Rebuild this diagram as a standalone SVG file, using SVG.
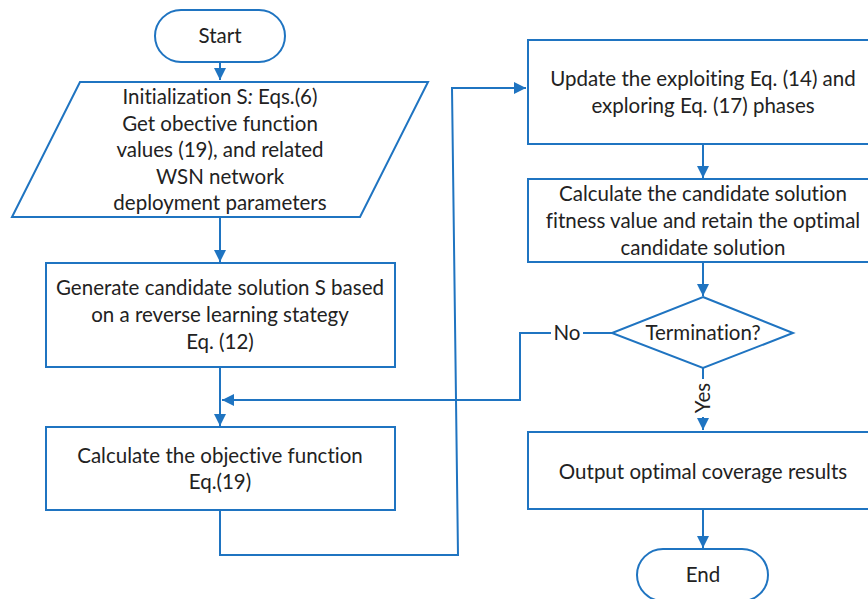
<svg xmlns="http://www.w3.org/2000/svg" width="868" height="599" viewBox="0 0 868 599">
<defs>
<style>
.n{fill:#fff;stroke:#1f74c1;stroke-width:2}
.c{fill:none;stroke:#1f74c1;stroke-width:2}
.t{font-family:Lato,"Liberation Sans",sans-serif;font-size:20.5px;fill:#222;text-anchor:middle;font-variant-ligatures:none}
</style>
<marker id="a" viewBox="0 0 10 10" refX="10" refY="5" markerWidth="6" markerHeight="6" orient="auto" markerUnits="strokeWidth">
<path d="M0,0L10,5L0,10z" fill="#1f74c1"/>
</marker>
</defs>
<rect width="868" height="599" fill="#fff"/>
<g id="connectors">
<path class="c" d="M220,62V80" marker-end="url(#a)"/>
<path class="c" d="M220,217V262" marker-end="url(#a)"/>
<path class="c" d="M220,367V426" marker-end="url(#a)"/>
<path class="c" d="M612,333H520V400H222" marker-end="url(#a)"/>
<path class="c" d="M220,510V555H458L452,88H526" marker-end="url(#a)"/>
<path class="c" d="M703,144V178" marker-end="url(#a)"/>
<path class="c" d="M703,262V296" marker-end="url(#a)"/>
<path class="c" d="M703,368V430" marker-end="url(#a)"/>
<path class="c" d="M703,509V548" marker-end="url(#a)"/>
<rect x="551" y="322" width="32" height="22" fill="#fff"/>
<text class="t" x="567" y="340">No</text>
<rect x="692" y="379" width="22" height="38" fill="#fff"/>
<text class="t" transform="translate(710,398) rotate(-90)">Yes</text>
</g>
<g id="start">
<rect class="n" x="155" y="10" width="130" height="52" rx="26"/>
<text class="t" x="220" y="43">Start</text>
</g>
<g id="init">
<path class="n" d="M80,82H428L360,217H12Z"/>
<text class="t" x="220" y="104">Initialization S<tspan font-style="italic">:</tspan> Eqs.(6)</text>
<text class="t" x="220" y="131">Get obective function</text>
<text class="t" x="220" y="157">values (19), and related</text>
<text class="t" x="220" y="184">WSN network</text>
<text class="t" x="220" y="210">deployment parameters</text>
</g>
<g id="generate">
<rect class="n" x="46" y="263" width="349" height="104"/>
<text class="t" x="220" y="295">Generate candidate solution S based</text>
<text class="t" x="220" y="322">on a reverse learning stategy</text>
<text class="t" x="220" y="349">Eq. (12)</text>
</g>
<g id="objective">
<rect class="n" x="46" y="427" width="349" height="83"/>
<text class="t" x="220" y="463">Calculate the objective function</text>
<text class="t" x="220" y="489">Eq.(19)</text>
</g>
<g id="update">
<rect class="n" x="528" y="40" width="360" height="104"/>
<text class="t" x="703" y="86">Update the exploiting Eq. (14) and</text>
<text class="t" x="703" y="113">exploring Eq. (17) phases</text>
</g>
<g id="fitness">
<rect class="n" x="528" y="179" width="360" height="83"/>
<text class="t" x="703" y="201">Calculate the candidate solution</text>
<text class="t" x="703" y="228">fitness value and retain the optimal</text>
<text class="t" x="703" y="255">candidate solution</text>
</g>
<g id="termination">
<path class="n" d="M703,297L793,333L703,368L612,333Z"/>
<text class="t" x="703" y="340">Termination?</text>
</g>
<g id="output">
<rect class="n" x="528" y="432" width="360" height="77"/>
<text class="t" x="703" y="479">Output optimal coverage results</text>
</g>
<g id="end">
<rect class="n" x="637" y="549" width="131" height="52" rx="26"/>
<text class="t" x="703" y="582">End</text>
</g>
</svg>
